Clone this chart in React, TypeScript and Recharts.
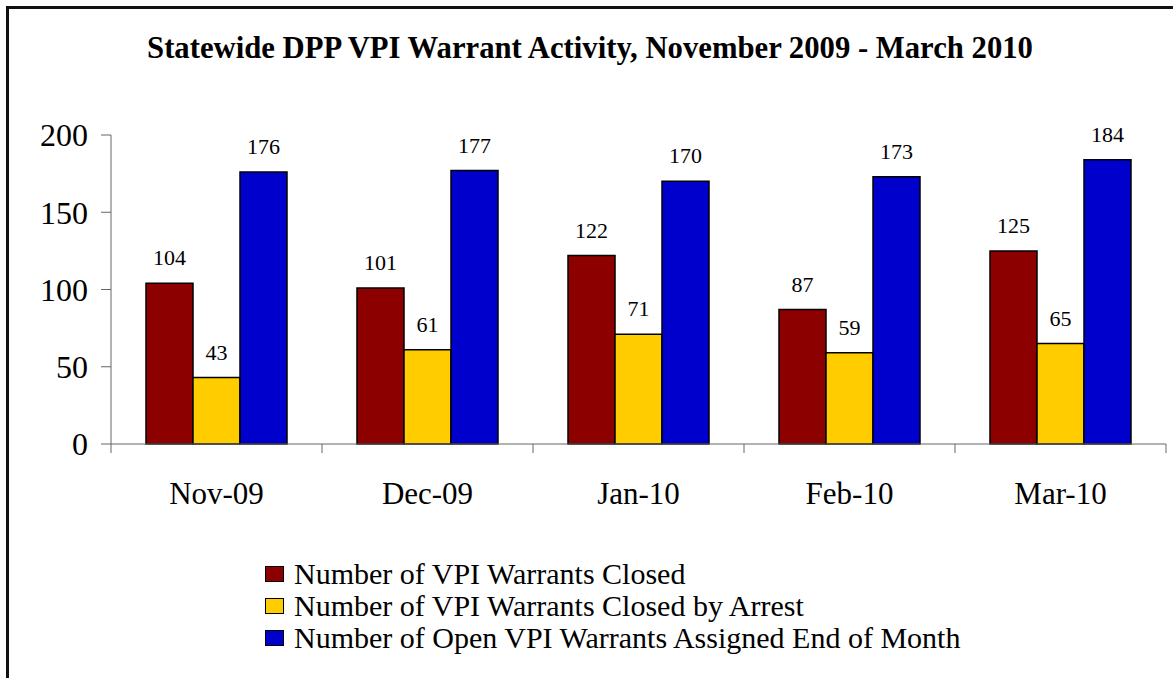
import { Bar, BarChart, XAxis, YAxis, Legend, LabelList } from 'recharts'

const months = ['Nov-09', 'Dec-09', 'Jan-10', 'Feb-10', 'Mar-10']
const closed = [104, 101, 122, 87, 125]
const closedByArrest = [43, 61, 71, 59, 65]
const openAssigned = [176, 177, 170, 173, 184]
const yTicks = [0, 50, 100, 150, 200]
const seriesOrder = ['closed', 'arrest', 'open']

const serif = '"Liberation Serif", "Times New Roman", serif'
const axisColor = '#666666'

const data = months.map((month, i) => ({
  month,
  closed: closed[i],
  arrest: closedByArrest[i],
  open: openAssigned[i],
}))

// x tick: label at band center, tick marks at the band edges
const MonthTick = (props: any) => {
  const { x, y, payload, index, visibleTicksCount } = props
  const half = payload?.offset ?? 0
  const axisY = y - 38
  return (
    <g>
      <line x1={x - half} x2={x - half} y1={axisY} y2={axisY + 9} stroke={axisColor} />
      {index === visibleTicksCount - 1 && (
        <line x1={x + half} x2={x + half} y1={axisY} y2={axisY + 9} stroke={axisColor} />
      )}
      <text x={x} y={y} dy="0.71em" textAnchor="middle" fontFamily={serif} fontSize={31} fill="#000">
        {payload.value}
      </text>
    </g>
  )
}

const renderLegend = (props: any) => {
  const items = [...(props.payload || [])].sort(
    (a: any, b: any) => seriesOrder.indexOf(a.dataKey) - seriesOrder.indexOf(b.dataKey)
  )
  return (
    <div style={{ fontFamily: serif, fontSize: 30, lineHeight: '32px', color: '#000' }}>
      {items.map((entry: any) => (
        <div key={entry.value} style={{ display: 'flex', alignItems: 'center', whiteSpace: 'nowrap' }}>
          <span
            style={{
              display: 'inline-block',
              width: 19,
              height: 16,
              boxSizing: 'border-box',
              background: entry.color,
              border: '1.5px solid #000',
              marginRight: 10,
            }}
          />
          {entry.value}
        </div>
      ))}
    </div>
  )
}

export default function App() {
  return (
    <div style={{ position: 'absolute', left: 0, top: 0, width: 1173, height: 678, background: '#fff', overflow: 'hidden' }}>
      <div
        style={{
          position: 'absolute',
          left: 6,
          top: 6,
          width: 1180,
          height: 700,
          borderLeft: '3px solid #111',
          borderTop: '3px solid #111',
          boxSizing: 'border-box',
        }}
      />
      <div
        style={{
          position: 'absolute',
          left: 0,
          width: 1180,
          top: 31,
          textAlign: 'center',
          fontFamily: serif,
          fontWeight: 'bold',
          fontSize: 30.7,
          color: '#000',
        }}
      >
        Statewide DPP VPI Warrant Activity, November 2009 - March 2010
      </div>
      <BarChart
        width={1173}
        height={678}
        data={data}
        barSize={47}
        barGap={0}
        margin={{ top: 135, right: 7, left: 0, bottom: 174 }}
        style={{ position: 'absolute', left: 0, top: 0 }}
      >
        <XAxis
          dataKey="month"
          height={60}
          stroke={axisColor}
          tickLine={false}
          tickSize={8}
          tickMargin={30}
          tick={<MonthTick />}
          interval={0}
        />
        <YAxis
          width={111}
          domain={[0, 200]}
          ticks={yTicks}
          stroke={axisColor}
          tickSize={10}
          tickMargin={13}
          tick={{ fill: '#000', fontSize: 32, fontFamily: serif }}
        />
        <Legend
          layout="vertical"
          align="center"
          verticalAlign="middle"
          content={renderLegend}
          wrapperStyle={{ left: 265, top: 558, width: 'auto' }}
        />
        <Bar dataKey="closed" name="Number of VPI Warrants Closed" fill="#8C0000" stroke="#000" strokeWidth={1.5} isAnimationActive={false}>
          <LabelList dataKey="closed" position="top" offset={18} fill="#000" fontSize={22} fontFamily={serif} />
        </Bar>
        <Bar dataKey="arrest" name="Number of VPI Warrants Closed by Arrest" fill="#FFCC00" stroke="#000" strokeWidth={1.5} isAnimationActive={false}>
          <LabelList dataKey="arrest" position="top" offset={18} fill="#000" fontSize={22} fontFamily={serif} />
        </Bar>
        <Bar dataKey="open" name="Number of Open VPI Warrants Assigned End of Month" fill="#0000CC" stroke="#000" strokeWidth={1.5} isAnimationActive={false}>
          <LabelList dataKey="open" position="top" offset={18} fill="#000" fontSize={22} fontFamily={serif} />
        </Bar>
      </BarChart>
    </div>
  )
}
